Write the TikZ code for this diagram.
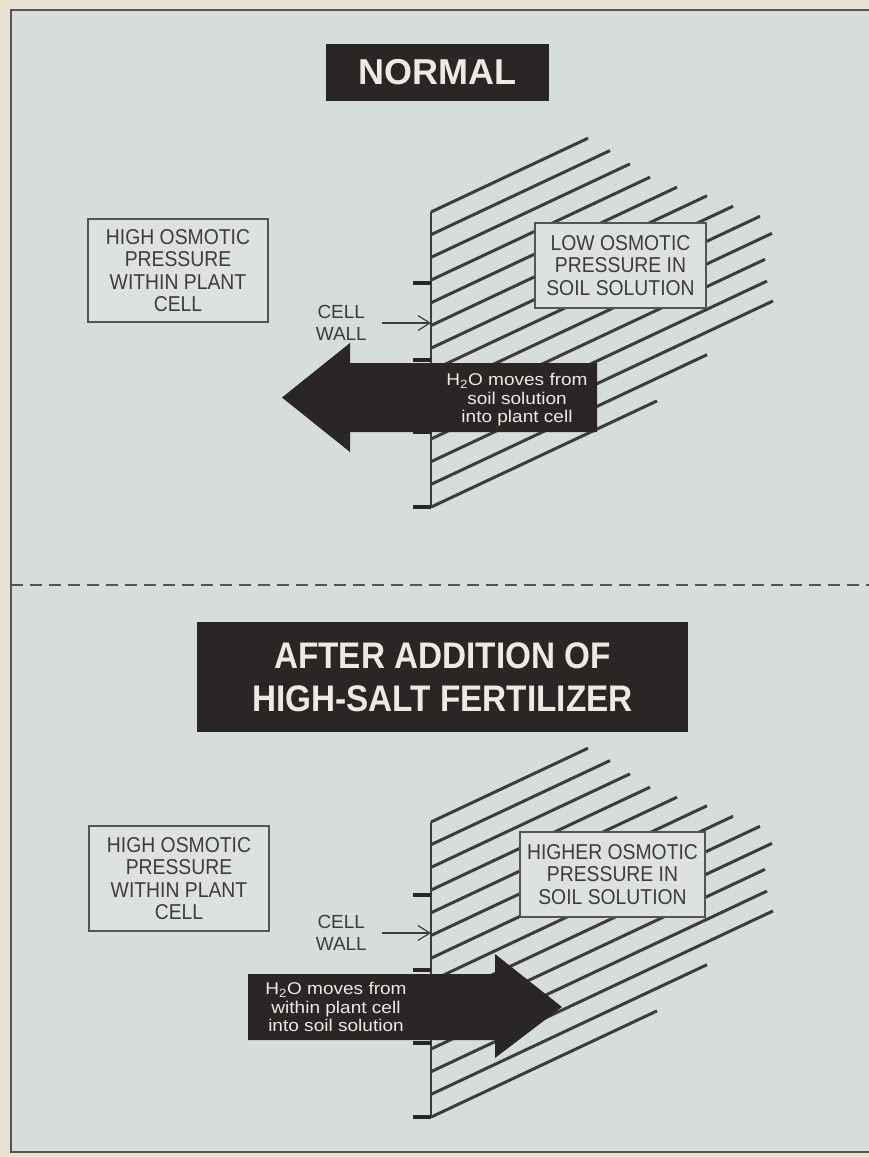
\documentclass[tikz,border=0pt]{standalone}
\usepackage{fontspec}
\setmainfont{Liberation Sans}
\newfontfamily\condensedsans[FakeStretch=0.9]{Liberation Sans}
\newfontfamily\widesans[FakeStretch=1.12]{Liberation Sans}
\usetikzlibrary{arrows.meta,positioning}
\definecolor{pagebeige}{HTML}{E7E2D4}
\definecolor{paper}{HTML}{D7DDDC}
\definecolor{paperlight}{HTML}{DDE2E0}
\definecolor{ink}{HTML}{2B2626}
\definecolor{inkgray}{HTML}{3E3B3B}
\definecolor{framegray}{HTML}{555555}
\definecolor{printwhite}{HTML}{ECEAE3}

\begin{document}
\begin{tikzpicture}[
  x=1pt, y=-1pt,
  titlebox/.style={
    fill=ink,
    text=printwhite,
    inner sep=0pt,
    align=center
  },
  labelbox/.style={
    draw=framegray,
    fill=paperlight,
    line width=1.4pt,
    text=inkgray,
    inner sep=0pt,
    align=center,
    font=\condensedsans\fontsize{21.5}{22.2}\selectfont
  },
  walllabel/.style={text=inkgray, inner sep=0pt, align=center, font=\fontsize{19}{22.5}\selectfont},
  flowtext/.style={text=printwhite, inner sep=0pt, align=center, font=\widesans\fontsize{17}{18.5}\selectfont},
  hatch/.style={draw=inkgray, line width=3pt},
  wallline/.style={draw=inkgray, line width=2.4pt},
  walltick/.style={draw=ink, line width=3.5pt},
  pointer/.style={-{Straight Barb[length=12pt,width=15pt]}, draw=inkgray, line width=1.2pt}
]
  \useasboundingbox (0,0) rectangle (869,1157);

  % Page and frame
  \fill[pagebeige] (0,0) rectangle (869,1157);
  \fill[paper] (11,10) rectangle (869,1152);
  \draw[framegray, line width=1.6pt] (869,10) -- (11,10) -- (11,1152) -- (869,1152);
  \draw[framegray, line width=2pt, dash pattern=on 12pt off 7pt] (11,585) -- (869,585);

  % Soil solution hatching (both panels)
  \foreach \dy in {0,610} {
    \foreach \k/\ex in {0/588,1/610,2/630,3/650,4/677,5/707,6/733,7/760,8/772,9/765,10/767,11/773,12/707,13/657} {
      \draw[hatch] (431,{\dy+212+22.7*\k}) -- (\ex,{\dy+212+22.7*\k-0.47*(\ex-431)});
    }
  }

  % Cell walls
  \coordinate (wall1top) at (431,212);
  \coordinate (wall1bot) at (431,507);
  \coordinate (wall2top) at (431,822);
  \coordinate (wall2bot) at (431,1117);
  \draw[wallline] (wall1top) -- (wall1bot);
  \draw[wallline] (wall2top) -- (wall2bot);

  % Panel 1: Normal
  \node[labelbox, minimum width=180pt, minimum height=103pt] (plant1) at (178,270.5) {HIGH OSMOTIC\\PRESSURE\\WITHIN PLANT\\CELL};
  \node[labelbox, minimum width=171pt, minimum height=85pt] (soil1) at (620.5,265.5) {LOW OSMOTIC\\PRESSURE IN\\SOIL SOLUTION};
  \fill[ink] (597,363) -- (350,363) -- (350,343) -- (282,397.5) -- (350,452) -- (350,432) -- (597,432) -- cycle;
  \node[flowtext] (flow1) at (517,400) {H\textsubscript{2}O moves from\\soil solution\\into plant cell};

  % Panel 2: After high-salt fertilizer
  \node[labelbox, minimum width=180pt, minimum height=105pt] (plant2) at (179,878.5) {HIGH OSMOTIC\\PRESSURE\\WITHIN PLANT\\CELL};
  \node[labelbox, minimum width=185pt, minimum height=85pt] (soil2) at (612.5,874.5) {HIGHER OSMOTIC\\PRESSURE IN\\SOIL SOLUTION};
  \fill[ink] (248,974) -- (495,974) -- (495,954) -- (562,1007) -- (495,1058) -- (495,1040) -- (248,1040) -- cycle;
  \node[flowtext] (flow2) at (336,1007) {H\textsubscript{2}O moves from\\within plant cell\\into soil solution};

  % Wall ticks
  \foreach \ty in {283,360,432,507,895,970,1043,1117}
    \draw[walltick] (413,\ty) -- (431,\ty);

  % Cell wall pointers
  \coordinate (cwtip1) at (431,323);
  \coordinate (cwtip2) at (431,933);
  \node[walllabel, left=64pt of cwtip1] (cw1) {CELL\\WALL};
  \node[walllabel, left=64pt of cwtip2] (cw2) {CELL\\WALL};
  \draw[pointer] ([xshift=15pt]cw1.east) -- (cwtip1);
  \draw[pointer] ([xshift=15pt]cw2.east) -- (cwtip2);

  % Titles
  \node[titlebox, minimum width=223pt, minimum height=57pt, font=\bfseries\fontsize{36}{40}\selectfont] (title1) at (437.5,72.5) {NORMAL};
  \node[titlebox, minimum width=491pt, minimum height=110pt, font=\condensedsans\bfseries\fontsize{37}{43}\selectfont] (title2) at (442.5,677) {AFTER ADDITION OF\\HIGH-SALT FERTILIZER};

\end{tikzpicture}
\end{document}
